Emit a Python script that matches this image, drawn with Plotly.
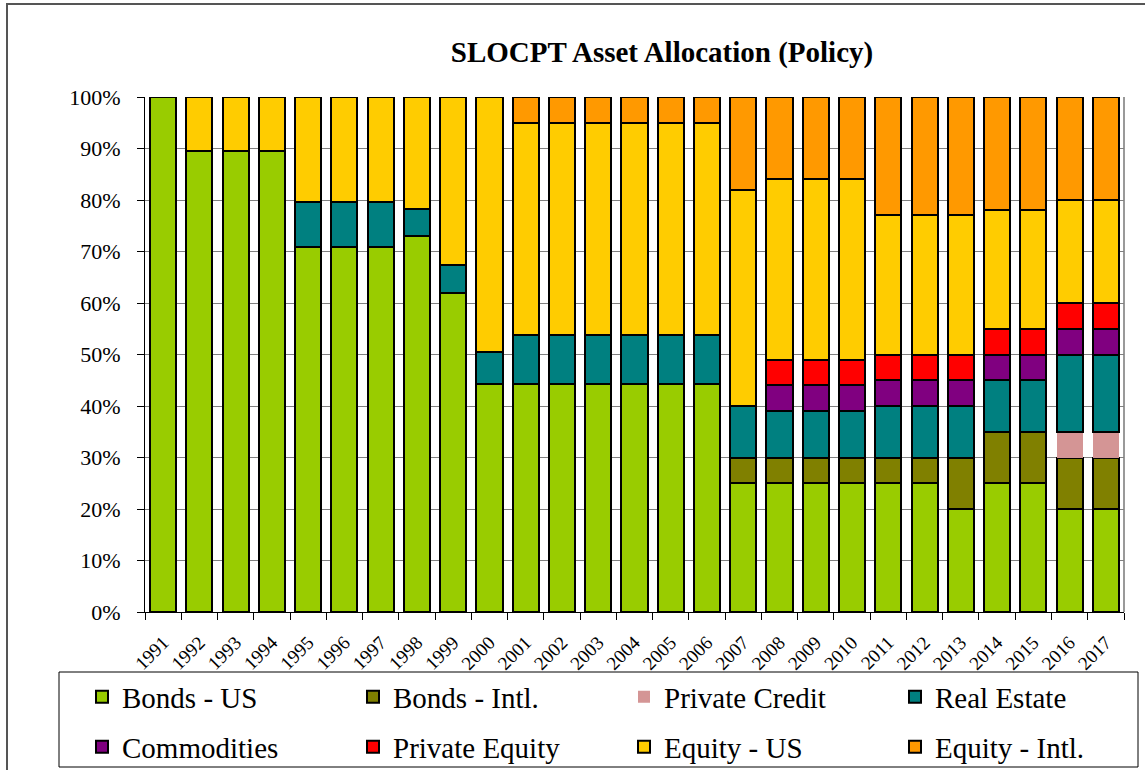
import plotly.graph_objects as go

years = [str(y) for y in range(1991, 2018)]

bonds_us = [100, 89.6, 89.6, 89.6, 70.9, 70.9, 70.9, 73.0, 62.0, 44.3,
            44.3, 44.3, 44.3, 44.3, 44.3, 44.3, 25, 25, 25, 25,
            25, 25, 20, 25, 25, 20, 20]
bonds_intl = [None] * 16 + [5, 5, 5, 5, 5, 5, 10, 10, 10, 10, 10]
private_credit = [None] * 25 + [5, 5]
real_estate = [None, None, None, None, 8.7, 8.7, 8.7, 5.3, 5.3, 6.1,
               9.4, 9.4, 9.4, 9.4, 9.4, 9.4, 10, 9, 9, 9,
               10, 10, 10, 10, 10, 15, 15]
commodities = [None] * 17 + [5] * 10
private_equity = [None] * 17 + [5] * 10
equity_us = [None, 10.4, 10.4, 10.4, 20.4, 20.4, 20.4, 21.7, 32.7, 49.6,
             41.3, 41.3, 41.3, 41.3, 41.3, 41.3, 42, 35, 35, 35,
             27, 27, 27, 23, 23, 20, 20]
equity_intl = [None] * 10 + [5, 5, 5, 5, 5, 5, 18, 16, 16, 16,
                             23, 23, 23, 22, 22, 20, 20]

series = [
    ("Bonds - US", bonds_us, "#99CC00", "legend"),
    ("Bonds - Intl.", bonds_intl, "#808000", "legend"),
    ("Private Credit", private_credit, "#D49595", "legend"),
    ("Real Estate", real_estate, "#008080", "legend"),
    ("Commodities", commodities, "#800080", "legend2"),
    ("Private Equity", private_equity, "#FF0000", "legend2"),
    ("Equity - US", equity_us, "#FFCC00", "legend2"),
    ("Equity - Intl.", equity_intl, "#FF9900", "legend2"),
]

W, H = 1145, 770
L, R, T, B = 145, 1124, 97, 612


def px_x(p):
    return (p - L) / (R - L)


def px_y(p):
    return (B - p) / (B - T)


fig = go.Figure()
for name, vals, col, lg in series:
    lw = 0 if name == "Private Credit" else 2
    fig.add_trace(go.Bar(
        x=years, y=vals, name=name, legend=lg,
        marker=dict(color=col, line=dict(color="black", width=lw)),
    ))

leg_common = dict(orientation="h", xanchor="left", yanchor="middle",
                  borderwidth=0, bgcolor="rgba(0,0,0,0)",
                  font=dict(size=29, family="Liberation Serif", color="black"),
                  entrywidth=226, entrywidthmode="pixels",
                  itemwidth=30, traceorder="normal", valign="middle")

fig.update_layout(
    width=W, height=H,
    margin=dict(l=L, r=W - R, t=T, b=H - B, autoexpand=False),
    barmode="stack", bargap=0.28,
    paper_bgcolor="white", plot_bgcolor="white",
    font=dict(family="Liberation Serif", color="black"),
    title=dict(text="<b>SLOCPT Asset Allocation (Policy)</b>",
               font=dict(size=29, family="Liberation Serif"),
               x=px_x(662), xref="paper", xanchor="center",
               y=1 - 52 / H, yanchor="middle"),
    showlegend=True,
    legend=dict(x=px_x(82), y=px_y(697), **leg_common),
    legend2=dict(x=px_x(82), y=px_y(747), **leg_common),
    xaxis=dict(tickangle=-45, tickfont=dict(size=19),
               ticks="outside", ticklen=7, tickcolor="black",
               tickson="boundaries", ticklabelstandoff=11,
               showline=True, linecolor="black", linewidth=1,
               showgrid=False),
    yaxis=dict(range=[0, 100], dtick=10, ticksuffix="%",
               tickfont=dict(size=22),
               ticks="outside", ticklen=7, tickcolor="black",
               ticklabelstandoff=12,
               showline=True, linecolor="black", linewidth=1,
               showgrid=True, gridcolor="#808080", gridwidth=1.3,
               zeroline=False),
)

# right plot-area frame in gray
fig.add_shape(type="line", xref="paper", yref="paper",
              x0=1, x1=1, y0=0, y1=1,
              line=dict(color="#999999", width=2), layer="below")
# legend box
fig.add_shape(type="rect", xref="paper", yref="paper",
              x0=px_x(59), x1=px_x(1138), y0=px_y(672), y1=px_y(767),
              line=dict(color="black", width=1))
# outer chart border
fig.add_shape(type="rect", xref="paper", yref="paper",
              x0=px_x(7), x1=px_x(1160), y0=px_y(4), y1=px_y(800),
              line=dict(color="#555555", width=2))

fig.write_html("out.html", config={"displayModeBar": False},
               post_script="document.body.style.margin='0';")
